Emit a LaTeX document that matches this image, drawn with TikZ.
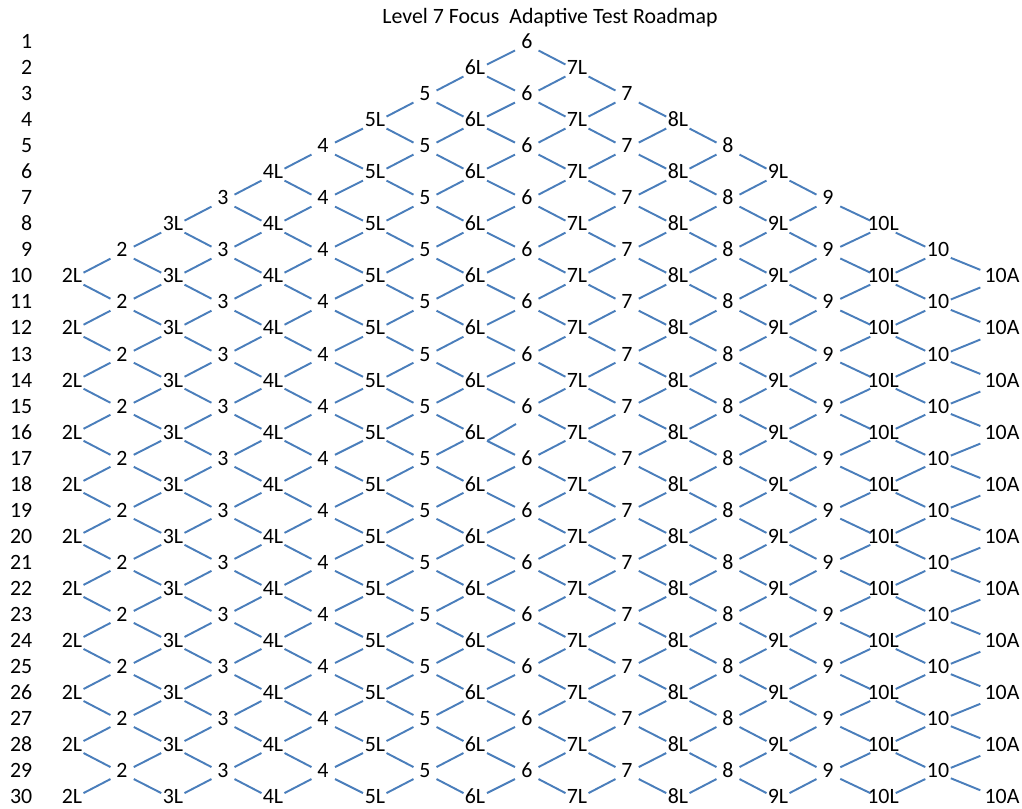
\documentclass[tikz,border=0pt]{standalone}
\usepackage{fontspec}
\setmainfont{Carlito}
\usepackage{tikz}
\definecolor{linkblue}{RGB}{74,126,187}

\begin{document}
\begin{tikzpicture}[x=0.75pt,y=-0.75pt,font=\fontsize{16.4}{19}\selectfont,
   lv/.style={inner xsep=1.1pt,inner ysep=1.1pt,minimum width=18pt,
              text height=0.64em,text depth=0pt},
   lvA/.style={lv,minimum width=40pt,inner ysep=3.2pt},
   rn/.style={anchor=east,inner sep=0pt,text height=0.64em,text depth=0pt},
   link/.style={draw=linkblue,line width=1.45pt}]
  \useasboundingbox (0,0) rectangle (1022,809);
  \node[anchor=base] (title) at (550,23.3) {Level 7 Focus~~Adaptive Test Roadmap};
  \foreach \r in {1,...,30}{
    \pgfmathsetmacro\y{44.5+(\r-1)*26.02}
    \node[rn] (row\r) at (32.5,\y) {\r};
    \foreach \lab/\x [count=\c from 0] in {2L/72,2/122,3L/173,3/223,4L/273,4/323,
        5L/375,5/425,6L/475,6/527,7L/577,7/627,8L/678,8/728,9L/778,9/828,
        10L/883,10/938,10A/1002}{
      \pgfmathtruncatemacro\ok{and(iseven(\r+\c),and(\c>9-\r,\c<9+\r))}
      \ifnum\c=18 \def\st{lvA}\else\def\st{lv}\fi
      \ifnum\ok=1 \node[\st] (n-\r-\c) at (\x,\y) {\lab};\fi
    }
  }
  \foreach \r [evaluate=\r as \s using int(\r+1)] in {1,...,29}
    \foreach \c in {0,...,18}{
      \pgfmathtruncatemacro\ok{and(iseven(\r+\c),and(\c>9-\r,\c<9+\r))}
      \pgfmathtruncatemacro\dl{\c-1}
      \pgfmathtruncatemacro\dr{\c+1}
      \ifnum\ok=1
        \ifnum\c>0
          \ifnum\r\c=159 \else \draw[link] (n-\r-\c) -- (n-\s-\dl);\fi
        \fi
        \ifnum\c<18 \draw[link] (n-\r-\c) -- (n-\s-\dr);\fi
      \fi
    }
  \coordinate (gap) at (516,424);
  \draw[link] (n-16-8.south east) -- (gap);
\end{tikzpicture}
\end{document}
